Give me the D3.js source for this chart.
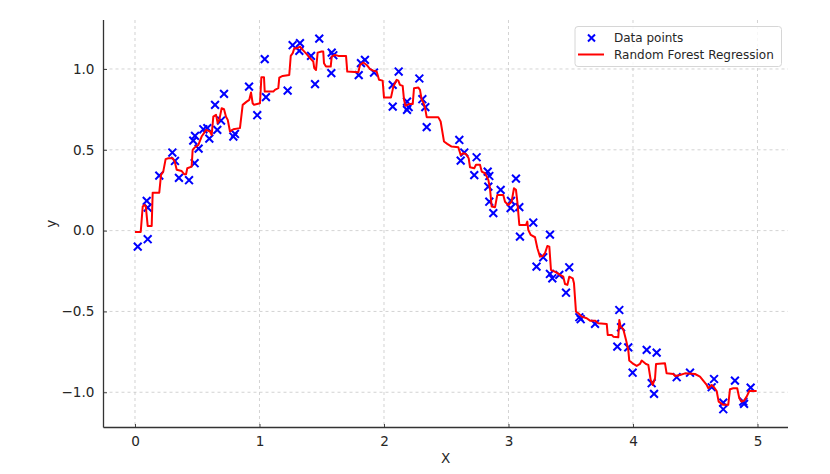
<!DOCTYPE html>
<html><head><meta charset="utf-8">
<script src="https://cdn.jsdelivr.net/npm/d3@7"></script>
<style>body{margin:0;background:#fff}svg{display:block;font-family:"DejaVu Sans",sans-serif}</style>
</head><body><svg id="c" width="830" height="474"></svg>
<script>
const pointX = [0.022,0.102,0.094,0.102,0.195,0.300,0.321,0.353,0.434,0.479,0.468,0.482,0.511,0.549,0.581,0.597,0.661,0.643,0.691,0.715,0.790,0.803,0.916,0.982,1.042,1.052,1.226,1.266,1.325,1.320,1.414,1.480,1.446,1.580,1.593,1.577,1.797,1.815,1.847,1.920,2.070,2.070,2.118,2.185,2.185,2.198,2.284,2.308,2.332,2.343,2.605,2.645,2.616,2.744,2.725,2.833,2.846,2.838,2.937,3.060,2.846,2.878,3.020,3.017,3.087,3.092,3.199,3.333,3.225,3.279,3.333,3.352,3.408,3.488,3.462,3.569,3.580,3.695,3.890,3.904,3.874,3.962,3.997,4.110,4.190,4.150,4.169,4.351,4.458,4.651,4.632,4.725,4.725,4.819,4.886,4.892,4.945];
const pointY = [-0.099,-0.053,0.184,0.142,0.340,0.483,0.431,0.326,0.312,0.417,0.557,0.586,0.507,0.627,0.634,0.569,0.623,0.778,0.681,0.846,0.582,0.598,0.891,0.714,1.061,0.826,0.866,1.147,1.160,1.112,1.081,1.188,0.906,1.101,1.085,0.974,0.962,1.036,1.056,0.978,0.902,0.767,0.984,0.798,0.747,0.764,0.941,0.813,0.764,0.640,0.561,0.483,0.433,0.454,0.343,0.365,0.338,0.272,0.252,0.322,0.179,0.108,0.184,0.139,0.145,-0.037,0.050,-0.025,-0.223,-0.165,-0.268,-0.295,-0.274,-0.227,-0.384,-0.536,-0.548,-0.577,-0.491,-0.598,-0.718,-0.722,-0.879,-0.738,-0.755,-0.944,-1.010,-0.907,-0.879,-0.918,-0.969,-1.064,-1.105,-0.928,-1.058,-1.072,-0.971];

const lineX = [0.000,0.046,0.062,0.075,0.087,0.102,0.134,0.142,0.195,0.209,0.227,0.246,0.268,0.303,0.319,0.335,0.375,0.394,0.410,0.420,0.455,0.463,0.482,0.509,0.535,0.554,0.570,0.602,0.616,0.629,0.651,0.664,0.677,0.696,0.715,0.731,0.745,0.763,0.790,0.843,0.865,0.897,0.918,0.932,0.945,0.956,1.004,1.015,1.036,1.042,1.111,1.124,1.151,1.159,1.186,1.239,1.251,1.267,1.280,1.304,1.325,1.347,1.379,1.406,1.432,1.440,1.454,1.467,1.499,1.512,1.518,1.534,1.572,1.580,1.606,1.633,1.695,1.705,1.794,1.807,1.834,1.861,1.888,1.914,1.941,1.960,1.989,2.000,2.056,2.075,2.102,2.115,2.128,2.150,2.161,2.172,2.204,2.231,2.241,2.276,2.289,2.303,2.316,2.329,2.343,2.436,2.455,2.482,2.508,2.543,2.597,2.616,2.637,2.659,2.680,2.691,2.725,2.739,2.771,2.785,2.811,2.825,2.838,2.851,2.865,2.892,2.910,2.958,2.972,2.998,3.025,3.044,3.060,3.071,3.087,3.141,3.151,3.159,3.179,3.213,3.232,3.253,3.275,3.293,3.312,3.328,3.341,3.387,3.414,3.440,3.454,3.473,3.488,3.516,3.526,3.542,3.561,3.588,3.628,3.655,3.695,3.721,3.789,3.797,3.829,3.842,3.882,3.890,3.901,3.922,3.944,3.962,3.970,4.003,4.030,4.056,4.070,4.104,4.123,4.142,4.158,4.177,4.185,4.257,4.270,4.324,4.337,4.378,4.418,4.498,4.538,4.592,4.605,4.632,4.651,4.672,4.688,4.725,4.765,4.779,4.805,4.837,4.854,4.873,4.892,4.913,4.934,4.993];
const lineY = [-0.008,-0.008,0.149,0.159,0.149,0.029,0.029,0.235,0.235,0.345,0.365,0.442,0.448,0.448,0.427,0.376,0.369,0.349,0.349,0.386,0.396,0.499,0.516,0.530,0.582,0.603,0.623,0.613,0.592,0.705,0.716,0.665,0.685,0.757,0.751,0.705,0.685,0.613,0.627,0.634,0.778,0.798,0.809,0.854,0.788,0.778,0.788,0.949,0.949,0.860,0.860,0.871,0.881,0.947,0.957,0.963,1.081,1.098,1.129,1.129,1.139,1.118,1.092,1.067,1.046,1.005,0.994,1.101,1.108,1.108,1.036,1.015,1.015,1.077,1.087,1.081,1.081,0.984,0.980,1.025,1.040,1.025,0.999,0.990,0.984,0.933,0.928,0.823,0.823,0.891,0.933,0.928,0.902,0.895,0.809,0.772,0.784,0.784,0.881,0.885,0.871,0.809,0.792,0.764,0.702,0.702,0.675,0.551,0.537,0.520,0.516,0.468,0.479,0.473,0.448,0.392,0.386,0.407,0.407,0.365,0.355,0.334,0.314,0.262,0.149,0.145,0.221,0.221,0.179,0.159,0.179,0.262,0.252,0.179,0.035,0.035,0.056,0.004,-0.027,-0.041,-0.109,-0.161,-0.157,-0.140,-0.095,-0.099,-0.243,-0.260,-0.274,-0.285,-0.330,-0.336,-0.285,-0.295,-0.326,-0.501,-0.511,-0.532,-0.542,-0.557,-0.557,-0.573,-0.577,-0.645,-0.645,-0.656,-0.660,-0.553,-0.594,-0.610,-0.676,-0.738,-0.804,-0.825,-0.837,-0.825,-0.804,-0.825,-0.831,-0.924,-0.955,-0.913,-0.825,-0.821,-0.883,-0.887,-0.899,-0.893,-0.883,-0.887,-0.903,-0.955,-0.975,-0.955,-0.969,-0.992,-1.058,-1.078,-1.078,-0.981,-0.975,-0.975,-1.037,-1.058,-1.052,-1.027,-0.992,-0.992];

const xTicks = [0,1,2,3,4,5];
const yTicks = [-1.0,-0.5,0.0,0.5,1.0];
const legendLabels = ["Data points","Random Forest Regression"];

const svg = d3.select("#c");
const L=103.5, R=788, T=20, B=427.5;
const x = d3.scaleLinear().domain([-0.253,5.245]).range([L,R]);
const y = d3.scaleLinear().domain([-1.218,1.303]).range([B,T]);
const txt = "#262626";

// grid
const g = svg.append("g");
g.selectAll(".gx").data(xTicks).join("line")
  .attr("x1",d=>x(d)).attr("x2",d=>x(d)).attr("y1",T).attr("y2",B)
  .attr("stroke","#c8c8c8").attr("stroke-width",0.8).attr("stroke-dasharray","3,3");
g.selectAll(".gy").data(yTicks).join("line")
  .attr("x1",L).attr("x2",R).attr("y1",d=>y(d)).attr("y2",d=>y(d))
  .attr("stroke","#c8c8c8").attr("stroke-width",0.8).attr("stroke-dasharray","3,3");

// axes (inward ticks)
const fmtY = d => (d<0?"\u2212":"") + Math.abs(d).toFixed(1);
const xa = svg.append("g").attr("transform",`translate(0,${B})`)
  .call(d3.axisBottom(x).tickValues(xTicks).tickSizeInner(-3.5).tickSizeOuter(0).tickPadding(9).tickFormat(d3.format("d")));
const ya = svg.append("g").attr("transform",`translate(${L},0)`)
  .call(d3.axisLeft(y).tickValues(yTicks).tickSizeInner(-3.5).tickSizeOuter(0).tickPadding(9).tickFormat(fmtY));
[xa,ya].forEach(a=>{
  a.select(".domain").remove();
  a.selectAll(".tick line").attr("stroke","#444").attr("stroke-width",1);
  a.selectAll("text").attr("font-size","13.6px").attr("fill",txt).attr("font-family","DejaVu Sans");
});
svg.append("line").attr("x1",L).attr("x2",L).attr("y1",T).attr("y2",B).attr("stroke","#333").attr("stroke-width",1.3);
svg.append("line").attr("x1",L).attr("x2",R).attr("y1",B).attr("y2",B).attr("stroke","#333").attr("stroke-width",1.3);

svg.append("text").attr("x",(L+R)/2).attr("y",463).attr("text-anchor","middle")
  .attr("font-size","13.6px").attr("fill",txt).text("X");
svg.append("text").attr("transform",`translate(56,${(T+B)/2}) rotate(-90)`).attr("text-anchor","middle")
  .attr("font-size","13.6px").attr("fill",txt).text("y");

// points
const pts = pointX.map((v,i)=>[v,pointY[i]]);
const s=3.9;
const cross = d => `M${x(d[0])-s},${y(d[1])-s}L${x(d[0])+s},${y(d[1])+s}M${x(d[0])-s},${y(d[1])+s}L${x(d[0])+s},${y(d[1])-s}`;
svg.append("g").selectAll("path").data(pts).join("path")
  .attr("d",cross).attr("stroke","#0000ff").attr("stroke-width",2).attr("fill","none");

// line
const ln = lineX.map((v,i)=>[v,lineY[i]]);
svg.append("path").datum(ln).attr("fill","none").attr("stroke","#ff0000").attr("stroke-width",2)
  .attr("stroke-linejoin","round")
  .attr("d",d3.line().x(d=>x(d[0])).y(d=>y(d[1])));

// legend
const lg = svg.append("g");
lg.append("rect").attr("x",575).attr("y",26.5).attr("width",206.5).attr("height",40).attr("rx",3)
  .attr("fill","#fff").attr("fill-opacity",0.8).attr("stroke","#d6d6d6").attr("stroke-width",1);
const ls=3.5;
lg.append("path").attr("d",`M${591.5-ls},${38-ls}L${591.5+ls},${38+ls}M${591.5-ls},${38+ls}L${591.5+ls},${38-ls}`)
  .attr("stroke","#0000ff").attr("stroke-width",2);
lg.append("line").attr("x1",578).attr("x2",604).attr("y1",54.5).attr("y2",54.5).attr("stroke","#ff0000").attr("stroke-width",2);
lg.selectAll("text").data(legendLabels).join("text")
  .attr("x",614).attr("y",(d,i)=>38+i*17).attr("dy","0.35em")
  .attr("font-size","12px").attr("fill",txt).text(d=>d);
</script></body></html>
